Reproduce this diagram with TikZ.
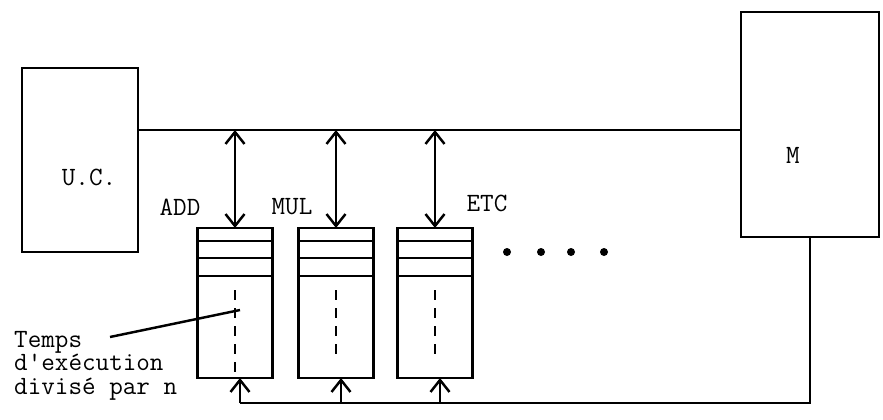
\documentclass[tikz,border=0pt]{standalone}
\usepackage{fontspec}
\newcommand\machine{\ttfamily\fontsize{15}{13.4}\selectfont
  \addfontfeatures{LetterSpace=8,FakeBold=1.2}}
\usetikzlibrary{arrows.meta,calc}

\begin{document}
\begin{tikzpicture}[x=0.2mm,y=-0.2mm,line width=1.4pt,
  >={Straight Barb[length=2.4mm,width=3.8mm]},
  bloc/.style={draw,rectangle,inner sep=0pt,outer sep=0pt},
  unite/.style={bloc,minimum width=15mm,minimum height=30mm},
  texte/.style={font=\machine,inner sep=0pt}]
\useasboundingbox (0,0) rectangle (883,419);
% unite centrale et memoire
\node[bloc,minimum width=23.2mm,minimum height=36.8mm] (uc) at (80,160) {};
\node[bloc,minimum width=27.6mm,minimum height=45mm] (m) at (810,124.5) {};
\node[texte] (uctxt) at (89,177) {U.C.};
\node[texte] (mtxt) at (793,155) {M};
\coordinate (bus) at (0,130);
\coordinate (fond) at (0,403);
\draw (uc.east |- bus) -- (m.west |- bus);
% operateurs
\foreach \i/\x/\l in {1/235/82,2/336/72,3/435/68} {
  \node[unite] (u\i) at (\x,303) {};
  \foreach \d in {13,30,48}
    \draw (u\i.north west) ++(0,\d) -- ++(75,0);
  \draw[dash pattern=on 2mm off 1.6mm] (u\i.north) ++(0,62) -- ++(0,\l);
  \draw[<->] (u\i.north |- bus) -- (u\i.north);
  \coordinate (e\i) at ($(u\i.south)+(5,0)$);
  \draw[->] (e\i |- fond) -- (e\i);
}
\draw (e1 |- fond) -- (m.south |- fond) -- (m.south);
\node[texte] (add) at (180,207) {ADD};
\node[texte] (mul) at (292,207) {MUL};
\node[texte] (etc) at (487,203) {ETC};
\foreach \x in {507,541,571,604}
  \fill (\x,252) circle (0.8mm);
% legende
\node[texte,align=left,anchor=north west] (temps) at (13,330) {Temps\\d'exécution\\divisé par n};
\coordinate (pied) at (110,337);
\coordinate (cible) at (240,310);
\draw (pied) -- (cible);
\end{tikzpicture}
\end{document}
